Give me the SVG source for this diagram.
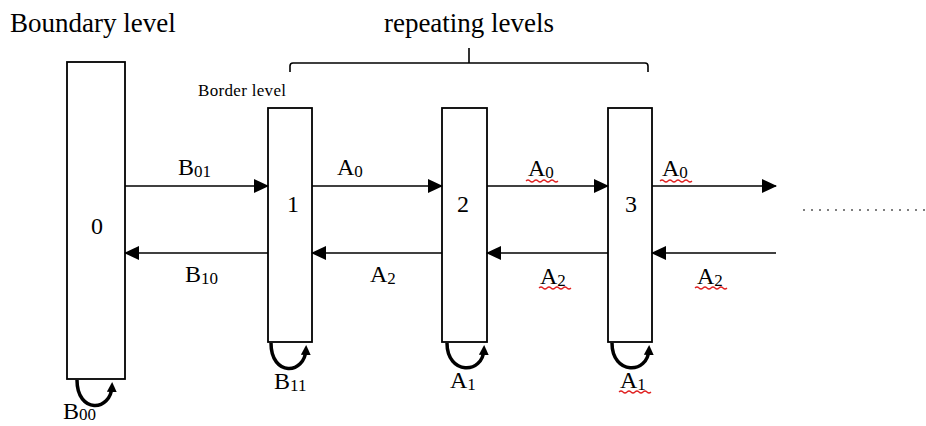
<svg xmlns="http://www.w3.org/2000/svg" width="926" height="426" viewBox="0 0 926 426">
<style>
  .box { fill: #fff; stroke: #000; stroke-width: 1.8; }
  text { font-family: "Liberation Serif", "Times New Roman", serif; fill: #000; }
  .lbl { font-size: 24px; }
  .num { font-size: 24px; text-anchor: middle; }
  .sub { font-size: 17px; }
  .edge { stroke: #000; stroke-width: 1.6; fill: none; marker-end: url(#arr); }
  .loop { stroke: #000; stroke-width: 3.5; fill: none; marker-end: url(#sarr); }
  .wavy { stroke: #e02020; stroke-width: 1.2; fill: none; }
</style>
<defs>
  <marker id="arr" markerUnits="userSpaceOnUse" markerWidth="15" markerHeight="14" refX="14" refY="7" orient="auto">
    <path d="M0,0 L15,7 L0,14 z" fill="#000"/>
  </marker>
  <marker id="sarr" markerUnits="userSpaceOnUse" markerWidth="10" markerHeight="10" refX="6" refY="5" orient="auto">
    <path d="M0,0 L10,5 L0,10 z" fill="#000"/>
  </marker>
</defs>

<text x="10" y="32" style="font-size:27px">Boundary level</text>
<text x="469" y="32" style="font-size:27px" text-anchor="middle">repeating levels</text>
<text x="198" y="96" style="font-size:17px" textLength="88">Border level</text>

<path d="M290 72 L290 66 Q290 63 293 63 L645 63 Q648 63 648 66 L648 72 M469 63 L469 48" stroke="#000" stroke-width="1.6" fill="none"/>

<g id="node0">
  <rect class="box" x="67" y="62" width="58" height="317"/>
  <text class="num" x="97" y="234">0</text>
</g>
<g id="node1">
  <rect class="box" x="268" y="108" width="44" height="234"/>
  <text class="num" x="293" y="212">1</text>
</g>
<g id="node2">
  <rect class="box" x="442" y="108" width="45" height="234"/>
  <text class="num" x="463" y="212">2</text>
</g>
<g id="node3">
  <rect class="box" x="608" y="108" width="44" height="234"/>
  <text class="num" x="631" y="212">3</text>
</g>

<g id="connectors">
  <line class="edge" x1="125" y1="186" x2="268" y2="186"/>
  <line class="edge" x1="268" y1="253" x2="125" y2="253"/>
  <line class="edge" x1="312" y1="186" x2="442" y2="186"/>
  <line class="edge" x1="442" y1="253" x2="312" y2="253"/>
  <line class="edge" x1="487" y1="186" x2="608" y2="186"/>
  <line class="edge" x1="608" y1="253" x2="487" y2="253"/>
  <line class="edge" x1="652" y1="186" x2="776" y2="186"/>
  <line class="edge" x1="776" y1="253" x2="652" y2="253"/>
  <path class="loop" d="M77 380 C77 414, 111 412, 112 386"/>
  <path class="loop" d="M271 343 C271 377, 305 375, 306 349"/>
  <path class="loop" d="M447 343 C447 375, 483 375, 484 349"/>
  <path class="loop" d="M612 343 C612 375, 648 375, 649 349"/>
  <line x1="803" y1="210" x2="926" y2="210" stroke="#000" stroke-width="1.2" stroke-dasharray="2 6"/>
</g>

<g id="labels">
  <text class="lbl" x="178" y="175">B<tspan class="sub" dy="2">01</tspan></text>
  <text class="lbl" x="337" y="175">A<tspan class="sub" dy="2">0</tspan></text>
  <text class="lbl" x="528" y="176">A<tspan class="sub" dy="2">0</tspan></text>
  <text class="lbl" x="662" y="176">A<tspan class="sub" dy="2">0</tspan></text>
  <text class="lbl" x="185" y="282">B<tspan class="sub" dy="2">10</tspan></text>
  <text class="lbl" x="370" y="282">A<tspan class="sub" dy="2">2</tspan></text>
  <text class="lbl" x="540" y="284">A<tspan class="sub" dy="2">2</tspan></text>
  <text class="lbl" x="697" y="284">A<tspan class="sub" dy="2">2</tspan></text>
  <text class="lbl" x="63" y="419">B<tspan class="sub" dy="1">00</tspan></text>
  <text class="lbl" x="274" y="389">B<tspan class="sub" dy="2">11</tspan></text>
  <text class="lbl" x="450" y="388">A<tspan class="sub" dy="2">1</tspan></text>
  <text class="lbl" x="620" y="388">A<tspan class="sub" dy="2">1</tspan></text>
</g>

<g id="spellmarks">
  <path class="wavy" d="M526 181 q2 -2 4 0 t4 0 t4 0 t4 0 t4 0 t4 0 t4 0 t4 0"/>
  <path class="wavy" d="M660 181 q2 -2 4 0 t4 0 t4 0 t4 0 t4 0 t4 0 t4 0 t4 0"/>
  <path class="wavy" d="M539 288 q2 -2 4 0 t4 0 t4 0 t4 0 t4 0 t4 0 t4 0 t4 0"/>
  <path class="wavy" d="M695 288 q2 -2 4 0 t4 0 t4 0 t4 0 t4 0 t4 0 t4 0 t4 0"/>
  <path class="wavy" d="M619 392 q2 -2 4 0 t4 0 t4 0 t4 0 t4 0 t4 0 t4 0 t4 0"/>
</g>
</svg>
